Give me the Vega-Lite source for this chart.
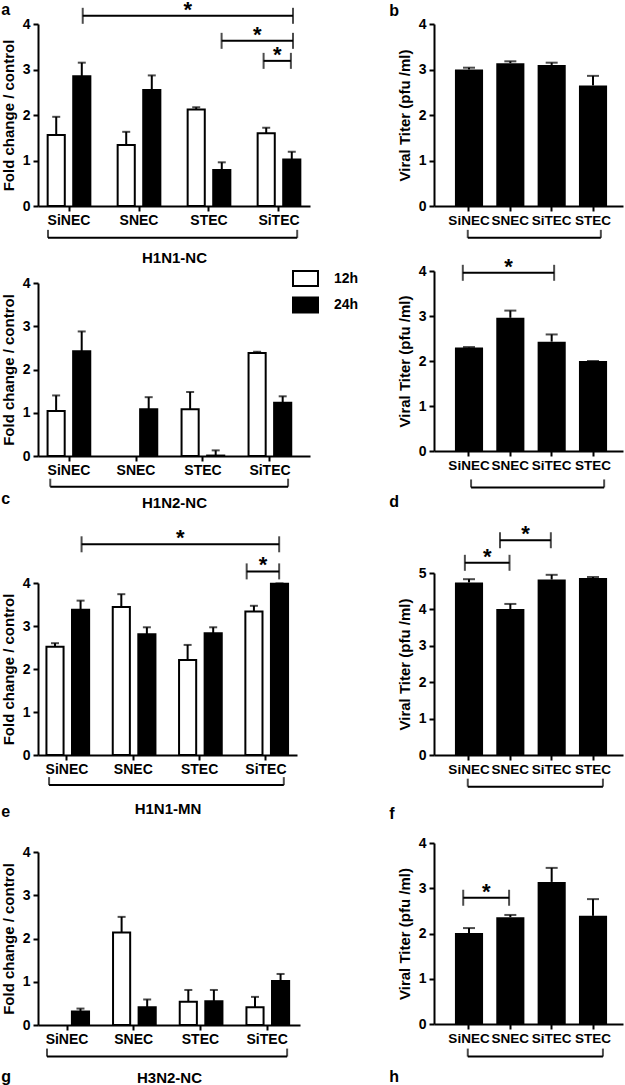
{
  "$schema": "https://vega.github.io/schema/vega-lite/v6.json",
  "autosize": {"type": "none"},
  "padding": {"left": 38, "top": 24, "right": 587, "bottom": 1061},
  "background": "white",
  "bounds": "flush",
  "spacing": 396,
  "datasets": {
    "left": [
      {"panel": "a", "cat": "SiNEC", "time": "12h", "value": 1.56, "err": 1.96},
      {"panel": "a", "cat": "SiNEC", "time": "24h", "value": 2.85, "err": 3.15},
      {"panel": "a", "cat": "SNEC", "time": "12h", "value": 1.34, "err": 1.63},
      {"panel": "a", "cat": "SNEC", "time": "24h", "value": 2.55, "err": 2.87},
      {"panel": "a", "cat": "STEC", "time": "12h", "value": 2.12, "err": 2.17},
      {"panel": "a", "cat": "STEC", "time": "24h", "value": 0.79, "err": 0.96},
      {"panel": "a", "cat": "SiTEC", "time": "12h", "value": 1.6, "err": 1.72},
      {"panel": "a", "cat": "SiTEC", "time": "24h", "value": 1.02, "err": 1.19},
      {"panel": "c", "cat": "SiNEC", "time": "12h", "value": 1.04, "err": 1.4},
      {"panel": "c", "cat": "SiNEC", "time": "24h", "value": 2.42, "err": 2.88},
      {"panel": "c", "cat": "SNEC", "time": "24h", "value": 1.08, "err": 1.36},
      {"panel": "c", "cat": "STEC", "time": "12h", "value": 1.08, "err": 1.48},
      {"panel": "c", "cat": "STEC", "time": "24h", "value": 0.01, "err": 0.13},
      {"panel": "c", "cat": "SiTEC", "time": "12h", "value": 2.38, "err": 2.41},
      {"panel": "c", "cat": "SiTEC", "time": "24h", "value": 1.23, "err": 1.38},
      {"panel": "e", "cat": "SiNEC", "time": "12h", "value": 2.52, "err": 2.6},
      {"panel": "e", "cat": "SiNEC", "time": "24h", "value": 3.38, "err": 3.59},
      {"panel": "e", "cat": "SNEC", "time": "12h", "value": 3.44, "err": 3.74},
      {"panel": "e", "cat": "SNEC", "time": "24h", "value": 2.81, "err": 2.97},
      {"panel": "e", "cat": "STEC", "time": "12h", "value": 2.21, "err": 2.56},
      {"panel": "e", "cat": "STEC", "time": "24h", "value": 2.83, "err": 2.97},
      {"panel": "e", "cat": "SiTEC", "time": "12h", "value": 3.34, "err": 3.47},
      {"panel": "e", "cat": "SiTEC", "time": "24h", "value": 3.98, "err": 3.99},
      {"panel": "g", "cat": "SiNEC", "time": "24h", "value": 0.31, "err": 0.38},
      {"panel": "g", "cat": "SNEC", "time": "12h", "value": 2.14, "err": 2.5},
      {"panel": "g", "cat": "SNEC", "time": "24h", "value": 0.41, "err": 0.59},
      {"panel": "g", "cat": "STEC", "time": "12h", "value": 0.54, "err": 0.81},
      {"panel": "g", "cat": "STEC", "time": "24h", "value": 0.55, "err": 0.81},
      {"panel": "g", "cat": "SiTEC", "time": "12h", "value": 0.41, "err": 0.65},
      {"panel": "g", "cat": "SiTEC", "time": "24h", "value": 1.02, "err": 1.18}
    ],
    "right": [
      {"panel": "b", "cat": "SiNEC", "value": 3.0, "err": 3.04},
      {"panel": "b", "cat": "SNEC", "value": 3.14, "err": 3.18},
      {"panel": "b", "cat": "SiTEC", "value": 3.1, "err": 3.15},
      {"panel": "b", "cat": "STEC", "value": 2.65, "err": 2.86},
      {"panel": "d", "cat": "SiNEC", "value": 2.3, "err": 2.31},
      {"panel": "d", "cat": "SNEC", "value": 2.96, "err": 3.12},
      {"panel": "d", "cat": "SiTEC", "value": 2.43, "err": 2.59},
      {"panel": "d", "cat": "STEC", "value": 2.0, "err": 2.0},
      {"panel": "f", "cat": "SiNEC", "value": 4.74, "err": 4.83},
      {"panel": "f", "cat": "SNEC", "value": 4.01, "err": 4.15},
      {"panel": "f", "cat": "SiTEC", "value": 4.82, "err": 4.95},
      {"panel": "f", "cat": "STEC", "value": 4.86, "err": 4.89},
      {"panel": "h", "cat": "SiNEC", "value": 2.01, "err": 2.12},
      {"panel": "h", "cat": "SNEC", "value": 2.36, "err": 2.41},
      {"panel": "h", "cat": "SiTEC", "value": 3.14, "err": 3.45},
      {"panel": "h", "cat": "STEC", "value": 2.39, "err": 2.76}
    ],
    "sig": [
      {"panel": "a", "x1": 0.196, "x2": 3.2, "xm": 1.698, "y": 4.18, "label": "*"},
      {"panel": "a", "x1": 2.18, "x2": 3.2, "xm": 2.69, "y": 3.63, "label": "*"},
      {"panel": "a", "x1": 2.78, "x2": 3.17, "xm": 2.975, "y": 3.19, "label": "*"},
      {"panel": "e", "x1": 0.22, "x2": 3.2, "xm": 1.71, "y": 4.9, "label": "*"},
      {"panel": "e", "x1": 2.71, "x2": 3.2, "xm": 2.955, "y": 4.27, "label": "*"},
      {"panel": "d", "x1": -0.15, "x2": 2.06, "xm": 0.955, "y": 3.96, "label": "*"},
      {"panel": "f", "x1": -0.1, "x2": 0.98, "xm": 0.44, "y": 5.28, "label": "*"},
      {"panel": "f", "x1": 0.75, "x2": 1.98, "xm": 1.365, "y": 5.9, "label": "*"},
      {"panel": "h", "x1": -0.14, "x2": 0.97, "xm": 0.415, "y": 2.79, "label": "*"}
    ],
    "grp": [
      {"panel": "a", "x1": -0.3, "x2": 3.26, "y": -0.7},
      {"panel": "c", "x1": -0.28, "x2": 3.27, "y": -0.71},
      {"panel": "e", "x1": -0.27, "x2": 3.27, "y": -0.7},
      {"panel": "g", "x1": -0.3, "x2": 3.3, "y": -0.73},
      {"panel": "b", "x1": -0.03, "x2": 3.19, "y": -0.7},
      {"panel": "d", "x1": 0.05, "x2": 3.27, "y": -0.81},
      {"panel": "f", "x1": -0.03, "x2": 3.24, "y": -0.87},
      {"panel": "h", "x1": -0.03, "x2": 3.24, "y": -0.72}
    ]
  },
  "hconcat": [
    {
      "bounds": "flush",
      "spacing": 559,
      "vconcat": [
        {
          "bounds": "flush",
          "spacing": 77,
          "vconcat": [
            {
              "width": 272, "height": 182,
              "title": {"text": "a", "orient": "top", "offset": -19},
              "layer": [
                {
                  "data": {"name": "left"},
                  "transform": [{"filter": "datum.panel === 'a'"}],
                  "layer": [
                    {"mark": {"type": "bar", "stroke": "black", "strokeWidth": 2},
                     "encoding": {
                       "x": {"field": "cat", "type": "nominal", "sort": ["SiNEC", "SNEC", "STEC", "SiTEC"], "scale": {"paddingInner": 0.39, "paddingOuter": 0.138, "align": 0.5, "round": false}, "axis": {"title": "H1N1-NC", "titlePadding": 23}},
                       "xOffset": {"field": "time", "type": "nominal", "sort": ["12h", "24h"], "scale": {"paddingInner": 0.33, "paddingOuter": 0, "round": false}},
                       "y": {"field": "value", "type": "quantitative", "scale": {"domain": [0, 4], "nice": false}, "axis": {"title": "Fold change / control", "values": [0, 1, 2, 3, 4], "format": "d"}},
                       "fill": {"field": "time", "type": "nominal", "scale": {"domain": ["12h", "24h"], "range": ["white", "black"]}, "legend": {"orient": "none", "legendX": 254, "legendY": 241, "title": null, "symbolType": "M-1,-0.6H1V0.6H-1Z", "symbolSize": 625, "symbolStrokeColor": "black", "symbolStrokeWidth": 2, "labelFontSize": 14, "labelFontWeight": "bold", "labelFont": "Liberation Sans", "labelColor": "black", "labelOffset": 15, "rowPadding": 1.5}}
                     }},
                    {"mark": {"type": "rule", "strokeWidth": 2, "color": "black"},
                     "encoding": {
                       "x": {"field": "cat", "type": "nominal", "sort": ["SiNEC", "SNEC", "STEC", "SiTEC"]},
                       "xOffset": {"field": "time", "type": "nominal", "sort": ["12h", "24h"]},
                       "y": {"field": "value", "type": "quantitative"}, "y2": {"field": "err"}}},
                    {"mark": {"type": "tick", "size": 8, "thickness": 2, "color": "black"},
                     "encoding": {
                       "x": {"field": "cat", "type": "nominal", "sort": ["SiNEC", "SNEC", "STEC", "SiTEC"]},
                       "xOffset": {"field": "time", "type": "nominal", "sort": ["12h", "24h"]},
                       "y": {"field": "err", "type": "quantitative"}}}
                  ]
                },
                {
                  "layer": [
                    {
                      "data": {"name": "grp"},
                      "transform": [{"filter": "datum.panel === 'a'"}],
                      "layer": [
                        {"mark": {"type": "rule", "strokeWidth": 2, "color": "black"},
                         "encoding": {"x": {"field": "x1", "type": "quantitative", "scale": {"domain": [-0.443, 3.443], "nice": false, "zero": false}, "axis": null}, "x2": {"field": "x2"}, "y": {"field": "y", "type": "quantitative"}}},
                        {"mark": {"type": "tick", "orient": "vertical", "size": 8, "thickness": 2, "yOffset": -4, "color": "black"},
                         "encoding": {"x": {"field": "x1", "type": "quantitative", "scale": {"domain": [-0.443, 3.443], "nice": false, "zero": false}, "axis": null}, "y": {"field": "y", "type": "quantitative"}}},
                        {"mark": {"type": "tick", "orient": "vertical", "size": 8, "thickness": 2, "yOffset": -4, "color": "black"},
                         "encoding": {"x": {"field": "x2", "type": "quantitative", "scale": {"domain": [-0.443, 3.443], "nice": false, "zero": false}, "axis": null}, "y": {"field": "y", "type": "quantitative"}}}
                      ]
                    },
                    {
                      "data": {"name": "sig"},
                      "transform": [{"filter": "datum.panel === 'a'"}],
                      "layer": [
                        {"mark": {"type": "rule", "strokeWidth": 2, "color": "black"},
                         "encoding": {"x": {"field": "x1", "type": "quantitative", "scale": {"domain": [-0.443, 3.443], "nice": false, "zero": false}, "axis": null}, "x2": {"field": "x2"}, "y": {"field": "y", "type": "quantitative"}}},
                        {"mark": {"type": "tick", "orient": "vertical", "size": 16, "thickness": 2, "color": "black"},
                         "encoding": {"x": {"field": "x1", "type": "quantitative", "scale": {"domain": [-0.443, 3.443], "nice": false, "zero": false}, "axis": null}, "y": {"field": "y", "type": "quantitative"}}},
                        {"mark": {"type": "tick", "orient": "vertical", "size": 16, "thickness": 2, "color": "black"},
                         "encoding": {"x": {"field": "x2", "type": "quantitative", "scale": {"domain": [-0.443, 3.443], "nice": false, "zero": false}, "axis": null}, "y": {"field": "y", "type": "quantitative"}}},
                        {"mark": {"type": "text", "fontSize": 22, "fontWeight": "bold", "baseline": "alphabetic", "color": "black", "dy": 1},
                         "encoding": {"x": {"field": "xm", "type": "quantitative", "scale": {"domain": [-0.443, 3.443], "nice": false, "zero": false}, "axis": null}, "y": {"field": "y", "type": "quantitative"}, "text": {"field": "label"}}}
                      ]
                    }
                  ]
                }
              ],
              "resolve": {"scale": {"x": "independent"}}
            },
            {
              "width": 272, "height": 173,
              "title": {"text": "c", "orient": "bottom", "offset": -19},
              "layer": [
                {
                  "data": {"name": "left"},
                  "transform": [{"filter": "datum.panel === 'c'"}],
                  "layer": [
                    {"mark": {"type": "bar", "stroke": "black", "strokeWidth": 2},
                     "encoding": {
                       "x": {"field": "cat", "type": "nominal", "sort": ["SiNEC", "SNEC", "STEC", "SiTEC"], "scale": {"paddingInner": 0.36, "paddingOuter": 0.21, "align": 0.34, "round": false}, "axis": {"title": "H1N2-NC", "titlePadding": 18}},
                       "xOffset": {"field": "time", "type": "nominal", "sort": ["12h", "24h"], "scale": {"paddingInner": 0.33, "paddingOuter": 0, "round": false}},
                       "y": {"field": "value", "type": "quantitative", "scale": {"domain": [0, 4], "nice": false}, "axis": {"title": "Fold change / control", "values": [0, 1, 2, 3, 4], "format": "d"}},
                       "fill": {"field": "time", "type": "nominal", "scale": {"domain": ["12h", "24h"], "range": ["white", "black"]}, "legend": {"orient": "none", "legendX": 254, "legendY": 241, "title": null, "symbolType": "M-1,-0.6H1V0.6H-1Z", "symbolSize": 625, "symbolStrokeColor": "black", "symbolStrokeWidth": 2, "labelFontSize": 14, "labelFontWeight": "bold", "labelFont": "Liberation Sans", "labelColor": "black", "labelOffset": 15, "rowPadding": 1.5}}
                     }},
                    {"mark": {"type": "rule", "strokeWidth": 2, "color": "black"},
                     "encoding": {
                       "x": {"field": "cat", "type": "nominal", "sort": ["SiNEC", "SNEC", "STEC", "SiTEC"]},
                       "xOffset": {"field": "time", "type": "nominal", "sort": ["12h", "24h"]},
                       "y": {"field": "value", "type": "quantitative"}, "y2": {"field": "err"}}},
                    {"mark": {"type": "tick", "size": 8, "thickness": 2, "color": "black"},
                     "encoding": {
                       "x": {"field": "cat", "type": "nominal", "sort": ["SiNEC", "SNEC", "STEC", "SiTEC"]},
                       "xOffset": {"field": "time", "type": "nominal", "sort": ["12h", "24h"]},
                       "y": {"field": "err", "type": "quantitative"}}}
                  ]
                },
                {
                  "data": {"name": "grp"},
                  "transform": [{"filter": "datum.panel === 'c'"}],
                  "layer": [
                    {"mark": {"type": "rule", "strokeWidth": 2, "color": "black"},
                     "encoding": {"x": {"field": "x1", "type": "quantitative", "scale": {"domain": [-0.463, 3.597], "nice": false, "zero": false}, "axis": null}, "x2": {"field": "x2"}, "y": {"field": "y", "type": "quantitative"}}},
                    {"mark": {"type": "tick", "orient": "vertical", "size": 8, "thickness": 2, "yOffset": -4, "color": "black"},
                     "encoding": {"x": {"field": "x1", "type": "quantitative", "scale": {"domain": [-0.463, 3.597], "nice": false, "zero": false}, "axis": null}, "y": {"field": "y", "type": "quantitative"}}},
                    {"mark": {"type": "tick", "orient": "vertical", "size": 8, "thickness": 2, "yOffset": -4, "color": "black"},
                     "encoding": {"x": {"field": "x2", "type": "quantitative", "scale": {"domain": [-0.463, 3.597], "nice": false, "zero": false}, "axis": null}, "y": {"field": "y", "type": "quantitative"}}}
                  ]
                }
              ],
              "resolve": {"scale": {"x": "independent"}}
            }
          ]
        },
        {
          "bounds": "flush",
          "spacing": 97,
          "vconcat": [
            {
              "width": 259, "height": 172,
              "title": {"text": "e", "orient": "bottom", "offset": -12},
              "layer": [
                {
                  "data": {"name": "left"},
                  "transform": [{"filter": "datum.panel === 'e'"}],
                  "layer": [
                    {"mark": {"type": "bar", "stroke": "black", "strokeWidth": 2},
                     "encoding": {
                       "x": {"field": "cat", "type": "nominal", "sort": ["SiNEC", "SNEC", "STEC", "SiTEC"], "scale": {"paddingInner": 0.38, "paddingOuter": 0.143, "align": 0.445, "round": false}, "axis": {"title": "H1N1-MN", "titlePadding": 25}},
                       "xOffset": {"field": "time", "type": "nominal", "sort": ["12h", "24h"], "scale": {"paddingInner": 0.33, "paddingOuter": 0, "round": false}},
                       "y": {"field": "value", "type": "quantitative", "scale": {"domain": [0, 4], "nice": false}, "axis": {"title": "Fold change / control", "values": [0, 1, 2, 3, 4], "format": "d"}},
                       "fill": {"field": "time", "type": "nominal", "scale": {"domain": ["12h", "24h"], "range": ["white", "black"]}, "legend": {"orient": "none", "legendX": 254, "legendY": 241, "title": null, "symbolType": "M-1,-0.6H1V0.6H-1Z", "symbolSize": 625, "symbolStrokeColor": "black", "symbolStrokeWidth": 2, "labelFontSize": 14, "labelFontWeight": "bold", "labelFont": "Liberation Sans", "labelColor": "black", "labelOffset": 15, "rowPadding": 1.5}}
                     }},
                    {"mark": {"type": "rule", "strokeWidth": 2, "color": "black"},
                     "encoding": {
                       "x": {"field": "cat", "type": "nominal", "sort": ["SiNEC", "SNEC", "STEC", "SiTEC"]},
                       "xOffset": {"field": "time", "type": "nominal", "sort": ["12h", "24h"]},
                       "y": {"field": "value", "type": "quantitative"}, "y2": {"field": "err"}}},
                    {"mark": {"type": "tick", "size": 8, "thickness": 2, "color": "black"},
                     "encoding": {
                       "x": {"field": "cat", "type": "nominal", "sort": ["SiNEC", "SNEC", "STEC", "SiTEC"]},
                       "xOffset": {"field": "time", "type": "nominal", "sort": ["12h", "24h"]},
                       "y": {"field": "err", "type": "quantitative"}}}
                  ]
                },
                {
                  "layer": [
                    {
                      "data": {"name": "grp"},
                      "transform": [{"filter": "datum.panel === 'e'"}],
                      "layer": [
                        {"mark": {"type": "rule", "strokeWidth": 2, "color": "black"},
                         "encoding": {"x": {"field": "x1", "type": "quantitative", "scale": {"domain": [-0.437, 3.469], "nice": false, "zero": false}, "axis": null}, "x2": {"field": "x2"}, "y": {"field": "y", "type": "quantitative"}}},
                        {"mark": {"type": "tick", "orient": "vertical", "size": 8, "thickness": 2, "yOffset": -4, "color": "black"},
                         "encoding": {"x": {"field": "x1", "type": "quantitative", "scale": {"domain": [-0.437, 3.469], "nice": false, "zero": false}, "axis": null}, "y": {"field": "y", "type": "quantitative"}}},
                        {"mark": {"type": "tick", "orient": "vertical", "size": 8, "thickness": 2, "yOffset": -4, "color": "black"},
                         "encoding": {"x": {"field": "x2", "type": "quantitative", "scale": {"domain": [-0.437, 3.469], "nice": false, "zero": false}, "axis": null}, "y": {"field": "y", "type": "quantitative"}}}
                      ]
                    },
                    {
                      "data": {"name": "sig"},
                      "transform": [{"filter": "datum.panel === 'e'"}],
                      "layer": [
                        {"mark": {"type": "rule", "strokeWidth": 2, "color": "black"},
                         "encoding": {"x": {"field": "x1", "type": "quantitative", "scale": {"domain": [-0.437, 3.469], "nice": false, "zero": false}, "axis": null}, "x2": {"field": "x2"}, "y": {"field": "y", "type": "quantitative"}}},
                        {"mark": {"type": "tick", "orient": "vertical", "size": 16, "thickness": 2, "color": "black"},
                         "encoding": {"x": {"field": "x1", "type": "quantitative", "scale": {"domain": [-0.437, 3.469], "nice": false, "zero": false}, "axis": null}, "y": {"field": "y", "type": "quantitative"}}},
                        {"mark": {"type": "tick", "orient": "vertical", "size": 16, "thickness": 2, "color": "black"},
                         "encoding": {"x": {"field": "x2", "type": "quantitative", "scale": {"domain": [-0.437, 3.469], "nice": false, "zero": false}, "axis": null}, "y": {"field": "y", "type": "quantitative"}}},
                        {"mark": {"type": "text", "fontSize": 22, "fontWeight": "bold", "baseline": "alphabetic", "color": "black", "dy": 1},
                         "encoding": {"x": {"field": "xm", "type": "quantitative", "scale": {"domain": [-0.437, 3.469], "nice": false, "zero": false}, "axis": null}, "y": {"field": "y", "type": "quantitative"}, "text": {"field": "label"}}}
                      ]
                    }
                  ]
                }
              ],
              "resolve": {"scale": {"x": "independent"}}
            },
            {
              "width": 262, "height": 173,
              "title": {"text": "g", "orient": "bottom", "offset": -16},
              "layer": [
                {
                  "data": {"name": "left"},
                  "transform": [{"filter": "datum.panel === 'g'"}],
                  "layer": [
                    {"mark": {"type": "bar", "stroke": "black", "strokeWidth": 2},
                     "encoding": {
                       "x": {"field": "cat", "type": "nominal", "sort": ["SiNEC", "SNEC", "STEC", "SiTEC"], "scale": {"paddingInner": 0.38, "paddingOuter": 0.154, "align": 0.406, "round": false}, "axis": {"title": "H3N2-NC", "titlePadding": 24}},
                       "xOffset": {"field": "time", "type": "nominal", "sort": ["12h", "24h"], "scale": {"paddingInner": 0.33, "paddingOuter": 0, "round": false}},
                       "y": {"field": "value", "type": "quantitative", "scale": {"domain": [0, 4], "nice": false}, "axis": {"title": "Fold change / control", "values": [0, 1, 2, 3, 4], "format": "d"}},
                       "fill": {"field": "time", "type": "nominal", "scale": {"domain": ["12h", "24h"], "range": ["white", "black"]}, "legend": {"orient": "none", "legendX": 254, "legendY": 241, "title": null, "symbolType": "M-1,-0.6H1V0.6H-1Z", "symbolSize": 625, "symbolStrokeColor": "black", "symbolStrokeWidth": 2, "labelFontSize": 14, "labelFontWeight": "bold", "labelFont": "Liberation Sans", "labelColor": "black", "labelOffset": 15, "rowPadding": 1.5}}
                     }},
                    {"mark": {"type": "rule", "strokeWidth": 2, "color": "black"},
                     "encoding": {
                       "x": {"field": "cat", "type": "nominal", "sort": ["SiNEC", "SNEC", "STEC", "SiTEC"]},
                       "xOffset": {"field": "time", "type": "nominal", "sort": ["12h", "24h"]},
                       "y": {"field": "value", "type": "quantitative"}, "y2": {"field": "err"}}},
                    {"mark": {"type": "tick", "size": 8, "thickness": 2, "color": "black"},
                     "encoding": {
                       "x": {"field": "cat", "type": "nominal", "sort": ["SiNEC", "SNEC", "STEC", "SiTEC"]},
                       "xOffset": {"field": "time", "type": "nominal", "sort": ["12h", "24h"]},
                       "y": {"field": "err", "type": "quantitative"}}}
                  ]
                },
                {
                  "data": {"name": "grp"},
                  "transform": [{"filter": "datum.panel === 'g'"}],
                  "layer": [
                    {"mark": {"type": "rule", "strokeWidth": 2, "color": "black"},
                     "encoding": {"x": {"field": "x1", "type": "quantitative", "scale": {"domain": [-0.435, 3.493], "nice": false, "zero": false}, "axis": null}, "x2": {"field": "x2"}, "y": {"field": "y", "type": "quantitative"}}},
                    {"mark": {"type": "tick", "orient": "vertical", "size": 8, "thickness": 2, "yOffset": -4, "color": "black"},
                     "encoding": {"x": {"field": "x1", "type": "quantitative", "scale": {"domain": [-0.435, 3.493], "nice": false, "zero": false}, "axis": null}, "y": {"field": "y", "type": "quantitative"}}},
                    {"mark": {"type": "tick", "orient": "vertical", "size": 8, "thickness": 2, "yOffset": -4, "color": "black"},
                     "encoding": {"x": {"field": "x2", "type": "quantitative", "scale": {"domain": [-0.435, 3.493], "nice": false, "zero": false}, "axis": null}, "y": {"field": "y", "type": "quantitative"}}}
                  ]
                }
              ],
              "resolve": {"scale": {"x": "independent"}}
            }
          ]
        }
      ]
    },
    {
      "bounds": "flush",
      "spacing": 549,
      "vconcat": [
        {
          "bounds": "flush",
          "spacing": 65,
          "vconcat": [
            {
              "width": 189, "height": 182,
              "title": {"text": "b", "orient": "top", "offset": -2, "dx": -8},
              "layer": [
                {
                  "data": {"name": "right"},
                  "transform": [{"filter": "datum.panel === 'b'"}],
                  "layer": [
                    {"mark": {"type": "bar", "color": "black"},
                     "encoding": {
                       "x": {"field": "cat", "type": "nominal", "sort": ["SiNEC", "SNEC", "SiTEC", "STEC"], "scale": {"paddingInner": 0.32, "paddingOuter": 0.446, "align": 0.568, "round": false}, "axis": {"title": null, "labelFontSize": 13.5}},
                       "y": {"field": "value", "type": "quantitative", "scale": {"domain": [0, 4], "nice": false}, "axis": {"title": "Viral Titer (pfu /ml)", "values": [0, 1, 2, 3, 4], "format": "d"}}
                     }},
                    {"mark": {"type": "rule", "strokeWidth": 2, "color": "black"},
                     "encoding": {"x": {"field": "cat", "type": "nominal", "sort": ["SiNEC", "SNEC", "SiTEC", "STEC"]}, "y": {"field": "value", "type": "quantitative"}, "y2": {"field": "err"}}},
                    {"mark": {"type": "tick", "size": 12, "thickness": 2, "color": "black"},
                     "encoding": {"x": {"field": "cat", "type": "nominal", "sort": ["SiNEC", "SNEC", "SiTEC", "STEC"]}, "y": {"field": "err", "type": "quantitative"}}}
                  ]
                },
                {
                  "data": {"name": "grp"},
                  "transform": [{"filter": "datum.panel === 'b'"}],
                  "layer": [
                    {"mark": {"type": "rule", "strokeWidth": 2, "color": "black"},
                     "encoding": {"x": {"field": "x1", "type": "quantitative", "scale": {"domain": [-0.847, 3.726], "nice": false, "zero": false}, "axis": null}, "x2": {"field": "x2"}, "y": {"field": "y", "type": "quantitative"}}},
                    {"mark": {"type": "tick", "orient": "vertical", "size": 8, "thickness": 2, "yOffset": -4, "color": "black"},
                     "encoding": {"x": {"field": "x1", "type": "quantitative", "scale": {"domain": [-0.847, 3.726], "nice": false, "zero": false}, "axis": null}, "y": {"field": "y", "type": "quantitative"}}},
                    {"mark": {"type": "tick", "orient": "vertical", "size": 8, "thickness": 2, "yOffset": -4, "color": "black"},
                     "encoding": {"x": {"field": "x2", "type": "quantitative", "scale": {"domain": [-0.847, 3.726], "nice": false, "zero": false}, "axis": null}, "y": {"field": "y", "type": "quantitative"}}}
                  ]
                }
              ],
              "resolve": {"scale": {"x": "independent"}}
            },
            {
              "width": 189, "height": 180,
              "title": {"text": "d", "orient": "bottom", "offset": 6, "dx": -8},
              "layer": [
                {
                  "data": {"name": "right"},
                  "transform": [{"filter": "datum.panel === 'd'"}],
                  "layer": [
                    {"mark": {"type": "bar", "color": "black"},
                     "encoding": {
                       "x": {"field": "cat", "type": "nominal", "sort": ["SiNEC", "SNEC", "SiTEC", "STEC"], "scale": {"paddingInner": 0.32, "paddingOuter": 0.446, "align": 0.568, "round": false}, "axis": {"title": null, "labelFontSize": 13.5}},
                       "y": {"field": "value", "type": "quantitative", "scale": {"domain": [0, 4], "nice": false}, "axis": {"title": "Viral Titer (pfu /ml)", "values": [0, 1, 2, 3, 4], "format": "d"}}
                     }},
                    {"mark": {"type": "rule", "strokeWidth": 2, "color": "black"},
                     "encoding": {"x": {"field": "cat", "type": "nominal", "sort": ["SiNEC", "SNEC", "SiTEC", "STEC"]}, "y": {"field": "value", "type": "quantitative"}, "y2": {"field": "err"}}},
                    {"mark": {"type": "tick", "size": 12, "thickness": 2, "color": "black"},
                     "encoding": {"x": {"field": "cat", "type": "nominal", "sort": ["SiNEC", "SNEC", "SiTEC", "STEC"]}, "y": {"field": "err", "type": "quantitative"}}}
                  ]
                },
                {
                  "layer": [
                    {
                      "data": {"name": "grp"},
                      "transform": [{"filter": "datum.panel === 'd'"}],
                      "layer": [
                        {"mark": {"type": "rule", "strokeWidth": 2, "color": "black"},
                         "encoding": {"x": {"field": "x1", "type": "quantitative", "scale": {"domain": [-0.847, 3.726], "nice": false, "zero": false}, "axis": null}, "x2": {"field": "x2"}, "y": {"field": "y", "type": "quantitative"}}},
                        {"mark": {"type": "tick", "orient": "vertical", "size": 8, "thickness": 2, "yOffset": -4, "color": "black"},
                         "encoding": {"x": {"field": "x1", "type": "quantitative", "scale": {"domain": [-0.847, 3.726], "nice": false, "zero": false}, "axis": null}, "y": {"field": "y", "type": "quantitative"}}},
                        {"mark": {"type": "tick", "orient": "vertical", "size": 8, "thickness": 2, "yOffset": -4, "color": "black"},
                         "encoding": {"x": {"field": "x2", "type": "quantitative", "scale": {"domain": [-0.847, 3.726], "nice": false, "zero": false}, "axis": null}, "y": {"field": "y", "type": "quantitative"}}}
                      ]
                    },
                    {
                      "data": {"name": "sig"},
                      "transform": [{"filter": "datum.panel === 'd'"}],
                      "layer": [
                        {"mark": {"type": "rule", "strokeWidth": 2, "color": "black"},
                         "encoding": {"x": {"field": "x1", "type": "quantitative", "scale": {"domain": [-0.847, 3.726], "nice": false, "zero": false}, "axis": null}, "x2": {"field": "x2"}, "y": {"field": "y", "type": "quantitative"}}},
                        {"mark": {"type": "tick", "orient": "vertical", "size": 16, "thickness": 2, "color": "black"},
                         "encoding": {"x": {"field": "x1", "type": "quantitative", "scale": {"domain": [-0.847, 3.726], "nice": false, "zero": false}, "axis": null}, "y": {"field": "y", "type": "quantitative"}}},
                        {"mark": {"type": "tick", "orient": "vertical", "size": 16, "thickness": 2, "color": "black"},
                         "encoding": {"x": {"field": "x2", "type": "quantitative", "scale": {"domain": [-0.847, 3.726], "nice": false, "zero": false}, "axis": null}, "y": {"field": "y", "type": "quantitative"}}},
                        {"mark": {"type": "text", "fontSize": 22, "fontWeight": "bold", "baseline": "alphabetic", "color": "black", "dy": 1},
                         "encoding": {"x": {"field": "xm", "type": "quantitative", "scale": {"domain": [-0.847, 3.726], "nice": false, "zero": false}, "axis": null}, "y": {"field": "y", "type": "quantitative"}, "text": {"field": "label"}}}
                      ]
                    }
                  ]
                }
              ],
              "resolve": {"scale": {"x": "independent"}}
            }
          ]
        },
        {
          "bounds": "flush",
          "spacing": 88,
          "vconcat": [
            {
              "width": 189, "height": 182,
              "title": {"text": "f", "orient": "bottom", "offset": 18, "dx": -8},
              "layer": [
                {
                  "data": {"name": "right"},
                  "transform": [{"filter": "datum.panel === 'f'"}],
                  "layer": [
                    {"mark": {"type": "bar", "color": "black"},
                     "encoding": {
                       "x": {"field": "cat", "type": "nominal", "sort": ["SiNEC", "SNEC", "SiTEC", "STEC"], "scale": {"paddingInner": 0.32, "paddingOuter": 0.446, "align": 0.568, "round": false}, "axis": {"title": null, "labelFontSize": 13.5}},
                       "y": {"field": "value", "type": "quantitative", "scale": {"domain": [0, 5], "nice": false}, "axis": {"title": "Viral Titer (pfu /ml)", "values": [0, 1, 2, 3, 4, 5], "tickCount": 6, "format": "d", "labelOverlap": false}}
                     }},
                    {"mark": {"type": "rule", "strokeWidth": 2, "color": "black"},
                     "encoding": {"x": {"field": "cat", "type": "nominal", "sort": ["SiNEC", "SNEC", "SiTEC", "STEC"]}, "y": {"field": "value", "type": "quantitative"}, "y2": {"field": "err"}}},
                    {"mark": {"type": "tick", "size": 12, "thickness": 2, "color": "black"},
                     "encoding": {"x": {"field": "cat", "type": "nominal", "sort": ["SiNEC", "SNEC", "SiTEC", "STEC"]}, "y": {"field": "err", "type": "quantitative"}}}
                  ]
                },
                {
                  "layer": [
                    {
                      "data": {"name": "grp"},
                      "transform": [{"filter": "datum.panel === 'f'"}],
                      "layer": [
                        {"mark": {"type": "rule", "strokeWidth": 2, "color": "black"},
                         "encoding": {"x": {"field": "x1", "type": "quantitative", "scale": {"domain": [-0.847, 3.726], "nice": false, "zero": false}, "axis": null}, "x2": {"field": "x2"}, "y": {"field": "y", "type": "quantitative"}}},
                        {"mark": {"type": "tick", "orient": "vertical", "size": 8, "thickness": 2, "yOffset": -4, "color": "black"},
                         "encoding": {"x": {"field": "x1", "type": "quantitative", "scale": {"domain": [-0.847, 3.726], "nice": false, "zero": false}, "axis": null}, "y": {"field": "y", "type": "quantitative"}}},
                        {"mark": {"type": "tick", "orient": "vertical", "size": 8, "thickness": 2, "yOffset": -4, "color": "black"},
                         "encoding": {"x": {"field": "x2", "type": "quantitative", "scale": {"domain": [-0.847, 3.726], "nice": false, "zero": false}, "axis": null}, "y": {"field": "y", "type": "quantitative"}}}
                      ]
                    },
                    {
                      "data": {"name": "sig"},
                      "transform": [{"filter": "datum.panel === 'f'"}],
                      "layer": [
                        {"mark": {"type": "rule", "strokeWidth": 2, "color": "black"},
                         "encoding": {"x": {"field": "x1", "type": "quantitative", "scale": {"domain": [-0.847, 3.726], "nice": false, "zero": false}, "axis": null}, "x2": {"field": "x2"}, "y": {"field": "y", "type": "quantitative"}}},
                        {"mark": {"type": "tick", "orient": "vertical", "size": 16, "thickness": 2, "color": "black"},
                         "encoding": {"x": {"field": "x1", "type": "quantitative", "scale": {"domain": [-0.847, 3.726], "nice": false, "zero": false}, "axis": null}, "y": {"field": "y", "type": "quantitative"}}},
                        {"mark": {"type": "tick", "orient": "vertical", "size": 16, "thickness": 2, "color": "black"},
                         "encoding": {"x": {"field": "x2", "type": "quantitative", "scale": {"domain": [-0.847, 3.726], "nice": false, "zero": false}, "axis": null}, "y": {"field": "y", "type": "quantitative"}}},
                        {"mark": {"type": "text", "fontSize": 22, "fontWeight": "bold", "baseline": "alphabetic", "color": "black", "dy": 1},
                         "encoding": {"x": {"field": "xm", "type": "quantitative", "scale": {"domain": [-0.847, 3.726], "nice": false, "zero": false}, "axis": null}, "y": {"field": "y", "type": "quantitative"}, "text": {"field": "label"}}}
                      ]
                    }
                  ]
                }
              ],
              "resolve": {"scale": {"x": "independent"}}
            },
            {
              "width": 189, "height": 181,
              "title": {"text": "h", "orient": "bottom", "offset": 11, "dx": -8},
              "layer": [
                {
                  "data": {"name": "right"},
                  "transform": [{"filter": "datum.panel === 'h'"}],
                  "layer": [
                    {"mark": {"type": "bar", "color": "black"},
                     "encoding": {
                       "x": {"field": "cat", "type": "nominal", "sort": ["SiNEC", "SNEC", "SiTEC", "STEC"], "scale": {"paddingInner": 0.32, "paddingOuter": 0.446, "align": 0.568, "round": false}, "axis": {"title": null, "labelFontSize": 13.5}},
                       "y": {"field": "value", "type": "quantitative", "scale": {"domain": [0, 4], "nice": false}, "axis": {"title": "Viral Titer (pfu /ml)", "values": [0, 1, 2, 3, 4], "format": "d"}}
                     }},
                    {"mark": {"type": "rule", "strokeWidth": 2, "color": "black"},
                     "encoding": {"x": {"field": "cat", "type": "nominal", "sort": ["SiNEC", "SNEC", "SiTEC", "STEC"]}, "y": {"field": "value", "type": "quantitative"}, "y2": {"field": "err"}}},
                    {"mark": {"type": "tick", "size": 12, "thickness": 2, "color": "black"},
                     "encoding": {"x": {"field": "cat", "type": "nominal", "sort": ["SiNEC", "SNEC", "SiTEC", "STEC"]}, "y": {"field": "err", "type": "quantitative"}}}
                  ]
                },
                {
                  "layer": [
                    {
                      "data": {"name": "grp"},
                      "transform": [{"filter": "datum.panel === 'h'"}],
                      "layer": [
                        {"mark": {"type": "rule", "strokeWidth": 2, "color": "black"},
                         "encoding": {"x": {"field": "x1", "type": "quantitative", "scale": {"domain": [-0.847, 3.726], "nice": false, "zero": false}, "axis": null}, "x2": {"field": "x2"}, "y": {"field": "y", "type": "quantitative"}}},
                        {"mark": {"type": "tick", "orient": "vertical", "size": 8, "thickness": 2, "yOffset": -4, "color": "black"},
                         "encoding": {"x": {"field": "x1", "type": "quantitative", "scale": {"domain": [-0.847, 3.726], "nice": false, "zero": false}, "axis": null}, "y": {"field": "y", "type": "quantitative"}}},
                        {"mark": {"type": "tick", "orient": "vertical", "size": 8, "thickness": 2, "yOffset": -4, "color": "black"},
                         "encoding": {"x": {"field": "x2", "type": "quantitative", "scale": {"domain": [-0.847, 3.726], "nice": false, "zero": false}, "axis": null}, "y": {"field": "y", "type": "quantitative"}}}
                      ]
                    },
                    {
                      "data": {"name": "sig"},
                      "transform": [{"filter": "datum.panel === 'h'"}],
                      "layer": [
                        {"mark": {"type": "rule", "strokeWidth": 2, "color": "black"},
                         "encoding": {"x": {"field": "x1", "type": "quantitative", "scale": {"domain": [-0.847, 3.726], "nice": false, "zero": false}, "axis": null}, "x2": {"field": "x2"}, "y": {"field": "y", "type": "quantitative"}}},
                        {"mark": {"type": "tick", "orient": "vertical", "size": 16, "thickness": 2, "color": "black"},
                         "encoding": {"x": {"field": "x1", "type": "quantitative", "scale": {"domain": [-0.847, 3.726], "nice": false, "zero": false}, "axis": null}, "y": {"field": "y", "type": "quantitative"}}},
                        {"mark": {"type": "tick", "orient": "vertical", "size": 16, "thickness": 2, "color": "black"},
                         "encoding": {"x": {"field": "x2", "type": "quantitative", "scale": {"domain": [-0.847, 3.726], "nice": false, "zero": false}, "axis": null}, "y": {"field": "y", "type": "quantitative"}}},
                        {"mark": {"type": "text", "fontSize": 22, "fontWeight": "bold", "baseline": "alphabetic", "color": "black", "dy": 1},
                         "encoding": {"x": {"field": "xm", "type": "quantitative", "scale": {"domain": [-0.847, 3.726], "nice": false, "zero": false}, "axis": null}, "y": {"field": "y", "type": "quantitative"}, "text": {"field": "label"}}}
                      ]
                    }
                  ]
                }
              ],
              "resolve": {"scale": {"x": "independent"}}
            }
          ]
        }
      ]
    }
  ],
  "config": {
    "font": "Liberation Sans",
    "view": {"stroke": null},
    "axis": {"domainColor": "black", "domainWidth": 2, "tickColor": "black", "tickWidth": 2, "tickSize": 5, "labelColor": "black", "labelFont": "Liberation Sans", "labelFontSize": 14, "labelFontWeight": "bold", "titleColor": "black", "titleFont": "Liberation Sans", "titleFontSize": 15, "titleFontWeight": "bold", "grid": false, "labelPadding": 3, "labelOverlap": false},
    "axisX": {"labelAngle": 0, "labelOverlap": false, "labelPadding": 2},
    "axisY": {"titlePadding": 6, "labelOverlap": false},
    "title": {"font": "Liberation Sans", "fontSize": 16, "fontWeight": "bold", "color": "black", "anchor": "start", "frame": "bounds"}
  }
}
